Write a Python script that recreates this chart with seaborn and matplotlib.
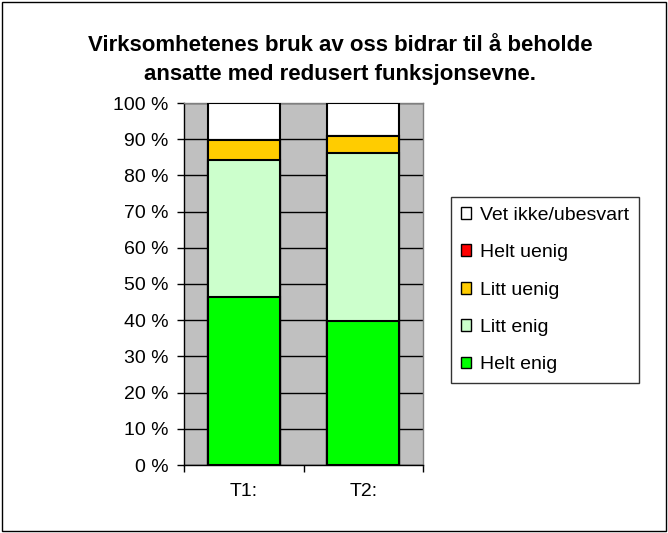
import matplotlib
matplotlib.use("Agg")
import matplotlib.pyplot as plt
import seaborn as sns
import pandas as pd
import numpy as np
from matplotlib.patches import Patch, Rectangle

categories = ["T1:", "T2:"]
series_names = ["Helt enig", "Litt enig", "Litt uenig", "Helt uenig", "Vet ikke/ubesvart"]
helt_enig = [46.5, 39.8]
litt_enig = [37.7, 46.3]
litt_uenig = [5.7, 4.7]
helt_uenig = [0.0, 0.0]
vet_ikke = [10.1, 9.2]
colors = ["#00FF00", "#CCFFCC", "#FFCC00", "#FF0000", "#FFFFFF"]
yticks = [0, 10, 20, 30, 40, 50, 60, 70, 80, 90, 100]
title = "Virksomhetenes bruk av oss bidrar til å beholde\nansatte med redusert funksjonsevne."

sns.set_style("white")
plt.rcParams["font.family"] = ["Liberation Sans", "DejaVu Sans"]
plt.rcParams["text.color"] = "black"
plt.rcParams["xtick.color"] = "black"
plt.rcParams["ytick.color"] = "black"
plt.rcParams["xtick.labelcolor"] = "black"
plt.rcParams["ytick.labelcolor"] = "black"

values = [helt_enig, litt_enig, litt_uenig, helt_uenig, vet_ikke]
cum = np.cumsum(np.array(values), axis=0)

fig = plt.figure(figsize=(6.68, 5.33), dpi=100)
fig.patch.set_facecolor("white")
fig.add_artist(Rectangle((0.003, 0.003), 0.994, 0.994, transform=fig.transFigure,
                         fill=False, edgecolor="black", linewidth=1.0))
ax = fig.add_axes([184/668, 1-465/533, (423-184)/668, (465-103)/533])
ax.set_facecolor("#C0C0C0")

for i in range(len(series_names) - 1, -1, -1):
    df = pd.DataFrame({"cat": categories, "val": cum[i]})
    sns.barplot(data=df, x="cat", y="val", ax=ax, color=colors[i], width=0.6,
                edgecolor="black", linewidth=1.5, saturation=1, zorder=3)

ax.set_ylim(0, 100)
ax.set_xlim(-0.5, 1.5)
ax.set_yticks(yticks)
ax.set_yticklabels([f"{t} %" for t in yticks], fontsize=14, color="black")
ax.tick_params(axis="y", direction="out", length=5, width=1, colors="black", left=True, pad=6)
ax.set_xticks([-0.5, 0.5, 1.5], minor=False)
ax.set_xticklabels(["", "", ""])
ax.set_xticks([0, 1], minor=True)
ax.set_xticklabels(categories, minor=True, fontsize=14, color="black")
ax.tick_params(axis="x", which="major", direction="out", length=5, width=1, bottom=True, colors="black")
ax.tick_params(axis="x", which="minor", length=0, pad=13)
ax.yaxis.grid(True, color="black", linewidth=1, zorder=1)
ax.set_axisbelow(True)
ax.set_xlabel("")
ax.set_ylabel("")
for s in ["top", "right"]:
    ax.spines[s].set_color("#808080")
    ax.spines[s].set_linewidth(1)
for s in ["left", "bottom"]:
    ax.spines[s].set_color("black")
    ax.spines[s].set_linewidth(1)

fig.text(340/668, 1-60/533, title, ha="center", va="center", fontsize=16,
         fontweight="bold", linespacing=1.55, color="black")

handles = [Patch(facecolor=colors[i], edgecolor="black", linewidth=1, label=series_names[i])
           for i in range(len(series_names) - 1, -1, -1)]
leg = fig.legend(handles=handles, loc="upper left",
                 bbox_to_anchor=(451/668, 1-197/533), fontsize=14,
                 frameon=True, fancybox=False, edgecolor="black",
                 handlelength=0.55, handleheight=0.55, handletextpad=0.45,
                 labelspacing=1.05, borderpad=0.5, borderaxespad=0)
leg.get_frame().set_linewidth(1)
for t in leg.get_texts():
    t.set_color("black")

fig.savefig("out.png", dpi=100, facecolor="white")
